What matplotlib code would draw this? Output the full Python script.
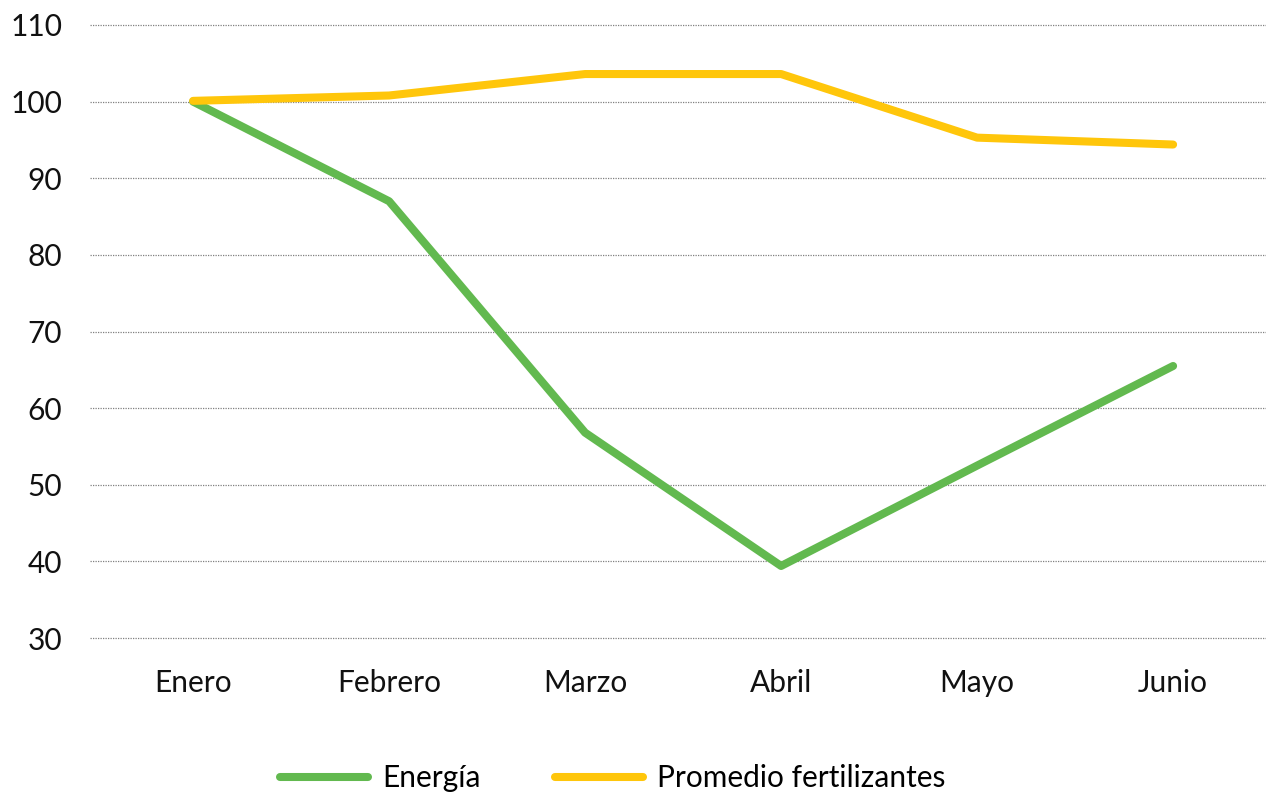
import matplotlib.pyplot as plt
import numpy as np

meses = ["Enero", "Febrero", "Marzo", "Abril", "Mayo", "Junio"]
energia = [100.0, 87.0, 56.8, 39.4, 52.5, 65.5]
fertilizantes = [100.1, 100.8, 103.6, 103.6, 95.3, 94.4]

plt.rcParams['font.family'] = ['Lato', 'DejaVu Sans']

fig = plt.figure(figsize=(12.66, 8), dpi=100)
ax = fig.add_axes([90 / 1266, 1 - 638 / 800, 1176 / 1266, 613 / 800])

x = np.arange(len(meses))
ax.plot(x, energia, color="#62B94F", lw=5.8, label="Energía", solid_capstyle="round", zorder=3)
ax.plot(x, fertilizantes, color="#FFC60B", lw=5.8, label="Promedio fertilizantes",
        solid_capstyle="round", zorder=3)

ax.set_xlim(-0.526, 5.474)
ax.set_ylim(30, 110)
ax.set_yticks(range(30, 111, 10))
ax.set_xticks(x)
ax.set_xticklabels(meses)
ax.yaxis.grid(True, linestyle=(0, (1, 1)), color="#808080", lw=0.9)
for gl in ax.get_ygridlines():
    gl.set_clip_on(False)
ax.set_axisbelow(True)
for s in ax.spines.values():
    s.set_visible(False)
ax.tick_params(length=0, labelsize=21.5, colors="#111111")
ax.tick_params(axis="y", pad=20)
ax.tick_params(axis="x", pad=22)

fig.legend(loc="center", bbox_to_anchor=(0.484, 1 - 778 / 800), ncol=2, frameon=False,
           fontsize=21.5, handlelength=2.95, columnspacing=2.5, handletextpad=0.47)

plt.savefig("out.png")
